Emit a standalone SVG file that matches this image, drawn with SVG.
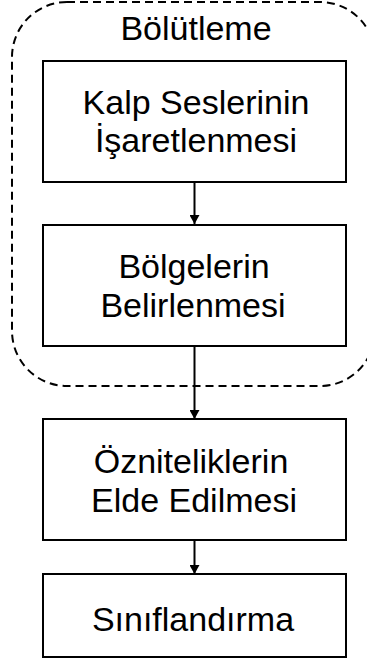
<svg xmlns="http://www.w3.org/2000/svg" width="367" height="670" viewBox="0 0 367 670">
<style>
.box{fill:#fff;stroke:#000;stroke-width:2}
.grp{fill:none;stroke:#000;stroke-width:2;stroke-dasharray:8,5}
.t{font-family:"Liberation Sans",Arial,sans-serif;font-size:34px;fill:#000;text-anchor:middle}
.c{stroke:#000;stroke-width:2;fill:none}
</style>
<defs>
<marker id="ah" markerWidth="9" markerHeight="10" refX="9" refY="5" orient="auto" markerUnits="userSpaceOnUse">
<path d="M0,0 L9,5 L0,10 Z" fill="#000"/>
</marker>
</defs>
<g id="segmentation">
<rect class="grp" x="12" y="2" width="363" height="384" rx="55" ry="55"/>
<text class="t" x="196" y="40">Bölütleme</text>
</g>
<g id="connectors">
<line class="c" x1="194.5" y1="182" x2="194.5" y2="224" marker-end="url(#ah)"/>
<line class="c" x1="194.5" y1="346" x2="194.5" y2="419" marker-end="url(#ah)"/>
<line class="c" x1="194.5" y1="540" x2="194.5" y2="574" marker-end="url(#ah)"/>
</g>
<g id="n1">
<rect class="box" x="43" y="61" width="303" height="121"/>
<text class="t" x="196" y="114">Kalp Seslerinin</text>
<text class="t" x="196" y="152">İşaretlenmesi</text>
</g>
<g id="n2">
<rect class="box" x="43" y="225" width="303" height="121"/>
<text class="t" x="194" y="278">Bölgelerin</text>
<text class="t" x="193" y="317">Belirlenmesi</text>
</g>
<g id="n3">
<rect class="box" x="43" y="419" width="303" height="121"/>
<text class="t" x="191" y="473">Özniteliklerin</text>
<text class="t" x="194" y="512">Elde Edilmesi</text>
</g>
<g id="n4">
<rect class="box" x="43" y="574" width="303" height="83"/>
<text class="t" x="193" y="631">Sınıflandırma</text>
</g>
</svg>
